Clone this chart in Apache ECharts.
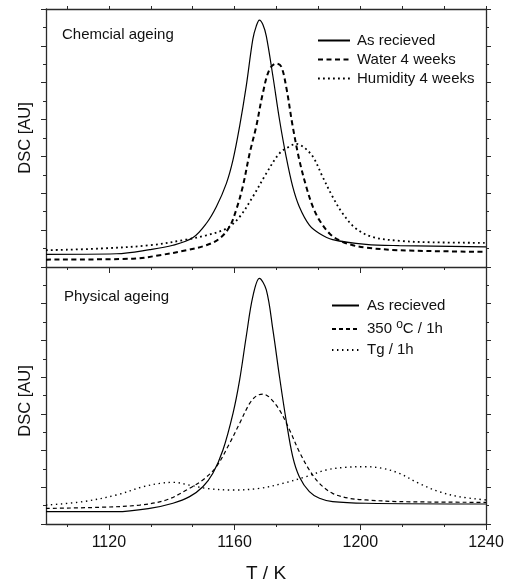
<!DOCTYPE html>
<html><head><meta charset="utf-8">
<script src="https://cdn.jsdelivr.net/npm/echarts@6/dist/echarts.min.js"></script>
<style>html,body{margin:0;padding:0;background:#fff}#c{width:506px;height:580px}</style>
</head><body><div id="c"></div>
<script>
// ---- data ----
const xMajorTicks = [1120, 1160, 1200, 1240];
const xMinorTicks = [1106.67, 1133.33, 1146.67, 1173.33, 1186.67, 1213.33, 1226.67];

// Chemical ageing (top panel)
const chemAsRecT = [1100, 1122.4, 1133, 1140.4, 1146.8, 1151.0, 1154.2, 1157.4, 1159.5, 1161.6, 1163.7, 1165.8, 1166.9, 1167.9, 1169.0, 1170.1, 1172.2, 1174.3, 1176.4, 1178.5, 1180.6, 1183.8, 1187.0, 1191.2, 1201.8, 1212.4, 1240];
const chemAsRecV = [0.69, 0.72, 0.94, 1.18, 1.6, 2.36, 3.27, 4.54, 5.81, 7.63, 9.8, 12.35, 13.07, 13.4, 13.16, 12.53, 10.35, 7.99, 5.99, 4.36, 3.27, 2.27, 1.82, 1.49, 1.23, 1.16, 1.09];
const chemWaterT = [1100, 1127.7, 1136.2, 1144.7, 1151.0, 1155.2, 1158.4, 1160.5, 1162.6, 1164.8, 1166.9, 1169.0, 1171.1, 1173.2, 1174.8, 1176.4, 1178.5, 1180.6, 1182.8, 1184.9, 1187.0, 1190.2, 1193.3, 1197.6, 1201.8, 1212.4, 1240];
const chemWaterV = [0.40, 0.45, 0.64, 0.91, 1.18, 1.54, 2.18, 3.09, 4.36, 6.17, 7.63, 9.44, 10.72, 11.04, 10.89, 9.8, 7.63, 5.81, 4.36, 3.27, 2.54, 1.82, 1.45, 1.18, 1.05, 0.91, 0.82];
const chemHumT = [1100, 1117.1, 1133, 1144.7, 1151.0, 1157.4, 1161.6, 1165.8, 1170.1, 1174.3, 1177.5, 1179.6, 1181.7, 1184.9, 1188.0, 1191.2, 1194.4, 1198.6, 1203.9, 1212.4, 1223.0, 1240];
const chemHumV = [0.91, 1.0, 1.18, 1.49, 1.72, 2.09, 2.72, 3.81, 5.08, 6.17, 6.54, 6.68, 6.54, 5.99, 4.9, 3.81, 2.9, 2.09, 1.63, 1.42, 1.34, 1.31];

// Physical ageing (bottom panel)
const physAsRecT = [1100, 1122.4, 1133, 1140.4, 1145.7, 1149.9, 1153.1, 1156.3, 1159.5, 1161.6, 1163.7, 1165.8, 1167.9, 1170.1, 1172.2, 1174.3, 1176.4, 1178.5, 1180.6, 1183.8, 1187.0, 1191.2, 1201.8, 1240];
const physAsRecV = [0.67, 0.67, 0.85, 1.13, 1.49, 2.03, 2.76, 4.03, 6.03, 7.84, 10.2, 12.38, 13.38, 12.75, 10.57, 8.02, 5.66, 3.67, 2.58, 1.76, 1.4, 1.22, 1.13, 1.09];
const phys350T = [1100, 1117.1, 1129.8, 1138.3, 1144.7, 1149.9, 1154.2, 1158.4, 1161.6, 1164.8, 1166.9, 1169.0, 1171.1, 1174.3, 1177.5, 1180.6, 1183.8, 1187.0, 1191.2, 1196.5, 1201.8, 1212.4, 1240];
const phys350V = [0.85, 0.91, 1.03, 1.31, 1.85, 2.40, 3.12, 4.39, 5.48, 6.57, 6.97, 7.08, 6.90, 6.21, 5.12, 3.94, 2.94, 2.21, 1.67, 1.40, 1.31, 1.22, 1.18];
const physTgT = [1100, 1111.8, 1122.4, 1130.9, 1136.2, 1140.4, 1145.7, 1151.0, 1159.5, 1167.9, 1175.3, 1182.8, 1189.1, 1195.5, 1201.8, 1207.1, 1212.4, 1218.7, 1225.1, 1231.4, 1240];
const physTgV = [1.03, 1.22, 1.58, 2.03, 2.21, 2.27, 2.12, 1.94, 1.85, 1.94, 2.21, 2.58, 2.94, 3.09, 3.12, 3.03, 2.76, 2.21, 1.76, 1.49, 1.31];

const names = ['As recieved', 'Water 4 weeks', 'Humidity 4 weeks', '350 °C / 1h', 'Tg / 1h'];

// ---- chart ----
const zip = (a, b) => a.map((v, i) => [v, b[i]]);
const FONT = 'Liberation Sans, Arial, sans-serif';
const AX = '#2a2a2a';

function xAxis(grid, opts) {
  return Object.assign({
    type: 'value', gridIndex: grid, min: 1100, max: 1240, position: 'bottom',
    axisLine: { show: false, lineStyle: { color: AX, width: 1.3 } },
    axisTick: { show: false },
    axisLabel: { show: false },
    splitLine: { show: false }
  }, opts);
}
function yAxis(grid, pos) {
  return {
    type: 'value', gridIndex: grid, min: 0, max: 14, interval: 2, position: pos,
    axisLine: { show: true, onZero: false, lineStyle: { color: AX, width: 1.3 } },
    axisTick: { show: true, inside: false, length: 5, lineStyle: { color: AX, width: 1 } },
    minorTick: { show: true, splitNumber: 2, length: 3, lineStyle: { color: AX, width: 1 } },
    axisLabel: { show: false },
    splitLine: { show: false }
  };
}
const majorTick = { show: true, inside: false, length: 6, customValues: xMajorTicks, lineStyle: { color: AX, width: 1 } };
const minorTick = { show: true, inside: false, length: 3, customValues: xMinorTicks, lineStyle: { color: AX, width: 1 } };
const allTicksSmall = { show: true, inside: false, length: 3, customValues: xMinorTicks.concat(xMajorTicks), lineStyle: { color: AX, width: 1 } };
const noSymbol = { color: 'rgba(0,0,0,0)', borderWidth: 0, opacity: 0 };

const chart = echarts.init(document.getElementById('c'), null, { renderer: 'canvas' });
chart.setOption({
  animation: false,
  backgroundColor: '#fff',
  textStyle: { fontFamily: FONT },
  grid: [
    { left: 46, right: 20, top: 9, height: 258, containLabel: false, outerBoundsMode: 'none' },
    { left: 46, right: 20, top: 267, height: 257, containLabel: false, outerBoundsMode: 'none' }
  ],
  xAxis: [
    xAxis(0, { axisLine: { show: true, onZero: false, lineStyle: { color: AX, width: 1.3 } }, axisTick: majorTick }),
    xAxis(0, { axisTick: minorTick }),
    xAxis(0, { position: 'top', axisLine: { show: true, onZero: false, lineStyle: { color: AX, width: 1.3 } }, axisTick: allTicksSmall }),
    xAxis(1, {
      axisLine: { show: true, onZero: false, lineStyle: { color: AX, width: 1.3 } }, axisTick: majorTick,
      axisLabel: { show: true, customValues: xMajorTicks, formatter: v => String(Math.round(v)), color: '#111', fontSize: 16, fontFamily: FONT, margin: 11 },
      name: 'T / K', nameLocation: 'middle', nameGap: 40,
      nameTextStyle: { fontSize: 19, color: '#111', fontFamily: FONT }
    }),
    xAxis(1, { axisTick: minorTick })
  ],
  yAxis: [yAxis(0, 'left'), yAxis(0, 'right'), yAxis(1, 'left'), yAxis(1, 'right')],
  legend: [
    {
      data: names.slice(0, 3), orient: 'vertical', left: 317, top: 33, padding: 0,
      itemWidth: 32, itemHeight: 12, itemGap: 4, selectedMode: false,
      itemStyle: noSymbol,
      textStyle: { fontSize: 15, color: '#111', fontFamily: FONT, padding: [0, 0, 0, 2] }
    },
    {
      data: [names[0], names[3], names[4]], orient: 'vertical', left: 331, top: 298, padding: 0,
      itemWidth: 27, itemHeight: 14, itemGap: 6, selectedMode: false,
      itemStyle: noSymbol,
      formatter: n => n.indexOf('350') === 0 ? '{n|350 }{s|o}{n|C / 1h}' : '{n|' + n + '}',
      textStyle: {
        fontSize: 15, color: '#111', fontFamily: FONT, padding: [0, 0, 0, 3],
        rich: {
          n: { fontSize: 15, color: '#111', fontFamily: FONT, lineHeight: 20 },
          s: { fontSize: 12, color: '#111', fontFamily: FONT, verticalAlign: 'top', lineHeight: 10 }
        }
      }
    }
  ],
  graphic: [
    { type: 'text', left: 62, top: 27.5, style: { text: 'Chemcial ageing', font: '15px ' + FONT, fill: '#111' } },
    { type: 'text', left: 64, top: 289, style: { text: 'Physical ageing', font: '15px ' + FONT, fill: '#111' } },
    { type: 'text', x: 25, y: 138, rotation: Math.PI / 2, style: { text: 'DSC [AU]', font: '16.5px ' + FONT, fill: '#111', align: 'center', verticalAlign: 'middle' } },
    { type: 'text', x: 25, y: 401, rotation: Math.PI / 2, style: { text: 'DSC [AU]', font: '16.5px ' + FONT, fill: '#111', align: 'center', verticalAlign: 'middle' } }
  ],
  series: [
    { name: names[0], type: 'line', xAxisIndex: 0, yAxisIndex: 0, data: zip(chemAsRecT, chemAsRecV), symbol: 'none', smooth: 0.35, lineStyle: { color: '#000', width: 1.2, type: 'solid' }, itemStyle: { color: '#000' } },
    { name: names[1], type: 'line', xAxisIndex: 0, yAxisIndex: 0, data: zip(chemWaterT, chemWaterV), symbol: 'none', smooth: 0.35, lineStyle: { color: '#000', width: 2, type: [5, 3.5] }, itemStyle: { color: '#000' } },
    { name: names[2], type: 'line', xAxisIndex: 0, yAxisIndex: 0, data: zip(chemHumT, chemHumV), symbol: 'none', smooth: 0.35, lineStyle: { color: '#000', width: 1.8, type: [1.8, 3.2] }, itemStyle: { color: '#000' } },
    { name: names[0], type: 'line', xAxisIndex: 3, yAxisIndex: 2, data: zip(physAsRecT, physAsRecV), symbol: 'none', smooth: 0.35, lineStyle: { color: '#000', width: 1.2, type: 'solid' }, itemStyle: { color: '#000' } },
    { name: names[3], type: 'line', xAxisIndex: 3, yAxisIndex: 2, data: zip(phys350T, phys350V), symbol: 'none', smooth: 0.35, lineStyle: { color: '#000', width: 1.2, type: [4, 3] }, itemStyle: { color: '#000' } },
    { name: names[4], type: 'line', xAxisIndex: 3, yAxisIndex: 2, data: zip(physTgT, physTgV), symbol: 'none', smooth: 0.35, lineStyle: { color: '#000', width: 1.4, type: [1.4, 3.6] }, itemStyle: { color: '#000' } }
  ]
});
</script>
</body></html>
